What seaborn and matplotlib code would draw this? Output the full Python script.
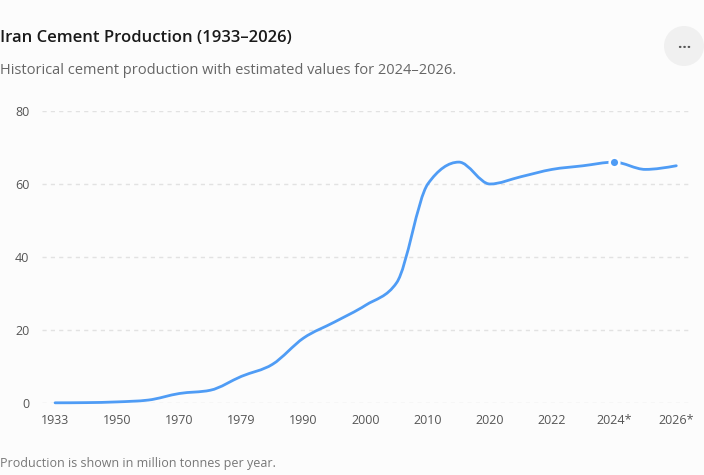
import numpy as np
import pandas as pd
import matplotlib
matplotlib.use("Agg")
import matplotlib.pyplot as plt
from matplotlib.path import Path
from matplotlib.patches import PathPatch, Ellipse
import seaborn as sns

years = ["1933", "1940", "1950", "1960", "1970", "1975", "1979", "1985", "1990",
         "1995", "2000", "2005", "2010", "2015", "2020", "2021", "2022", "2023",
         "2024*", "2025*", "2026*"]
production = [0.05, 0.1, 0.3, 0.8, 2.6, 3.5, 7.3, 10.6, 17.8,
              22.2, 26.8, 33.0, 60.0, 66.0, 60.0, 62.0, 64.0, 65.0,
              66.0, 64.0, 65.0]
highlight = "2024*"

LINE = "#4f9cf5"
BG = "#fcfcfc"


def monotone_path(x, y):
    # monotone cubic (d3 curveMonotoneX style) as bezier path
    x = np.asarray(x, float)
    y = np.asarray(y, float)
    n = len(x)
    h = np.diff(x)
    s = np.diff(y) / h
    t = np.zeros(n)
    for i in range(1, n - 1):
        p = (s[i - 1] * h[i] + s[i] * h[i - 1]) / (h[i - 1] + h[i])
        t[i] = (np.sign(s[i - 1]) + np.sign(s[i])) * min(abs(s[i - 1]), abs(s[i]), 0.5 * abs(p))
    t[0] = (3 * s[0] - t[1]) / 2
    t[-1] = (3 * s[-1] - t[-2]) / 2
    verts = [(x[0], y[0])]
    codes = [Path.MOVETO]
    for i in range(n - 1):
        dx = h[i] / 3
        verts += [(x[i] + dx, y[i] + dx * t[i]),
                  (x[i + 1] - dx, y[i + 1] - dx * t[i + 1]),
                  (x[i + 1], y[i + 1])]
        codes += [Path.CURVE4] * 3
    return Path(verts, codes)


df = pd.DataFrame({"year": years, "production": production})
df["idx"] = np.arange(len(df))

sns.set_theme(style="white")
plt.rcParams["font.family"] = ["Open Sans", "DejaVu Sans"]

fig = plt.figure(figsize=(7.04, 4.75), dpi=100, facecolor=BG)
ax = fig.add_axes([0.0597, 0.1516, 0.923, 0.6147], facecolor=BG)

# invisible seaborn line sets up the scales, the smooth path goes on top
sns.lineplot(data=df, x="idx", y="production", ax=ax, color=LINE, lw=0, legend=False)
ax.add_patch(PathPatch(monotone_path(df["idx"], df["production"]), fill=False,
                       edgecolor=LINE, lw=2.0, capstyle="round", joinstyle="round",
                       clip_on=False, zorder=3))

hl = df[df["year"] == highlight]
sns.scatterplot(data=hl, x="idx", y="production", ax=ax, color=LINE, s=48,
                edgecolor="white", linewidth=1.8, zorder=4, clip_on=False, legend=False)

ax.set_xlim(-0.42, len(years) - 0.5)
ax.set_ylim(0, 80)
ax.set_yticks([0, 20, 40, 60, 80])
ax.set_xticks(df["idx"][::2])
ax.set_xticklabels(df["year"][::2])
ax.set_xlabel("")
ax.set_ylabel("")
ax.tick_params(axis="both", length=0, labelsize=9, colors="#555555")
ax.tick_params(axis="y", pad=9)
ax.tick_params(axis="x", pad=8)
ax.grid(axis="y", color="#e2e2e2", linestyle=(0, (3, 3)), linewidth=1)
ax.grid(axis="x", visible=False)
for sp in ax.spines.values():
    sp.set_visible(False)

fig.text(0.0, 0.92, "Iran Cement Production (1933\u20132026)", fontsize=12,
         fontweight="semibold", color="#1a1a1a", ha="left", va="center")
fig.text(0.0, 0.852, "Historical cement production with estimated values for 2024\u20132026.",
         fontsize=10.5, color="#666666", ha="left", va="center")
fig.text(0.0, 0.025, "Production is shown in million tonnes per year.",
         fontsize=9, color="#777777", ha="left", va="center")

# menu button
btn = Ellipse((684 / 704, 1 - 46 / 475), 40 / 704, 40 / 475,
              transform=fig.transFigure, facecolor="#f0f0f0", edgecolor="none")
fig.patches.append(btn)
fig.text(684 / 704, 1 - 44 / 475, "\u2026", fontsize=11, fontweight="bold",
         color="#555555", ha="center", va="center")

fig.savefig("out.png", dpi=100, facecolor=BG)
